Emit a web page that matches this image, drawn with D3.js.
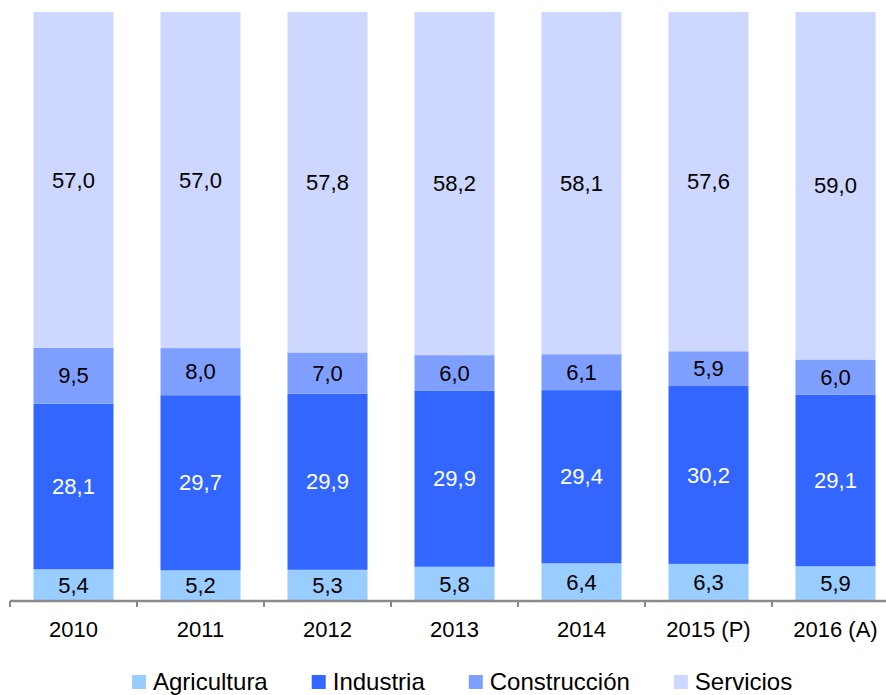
<!DOCTYPE html>
<html>
<head>
<meta charset="utf-8">
<script src="https://cdn.jsdelivr.net/npm/d3@7"></script>
<style>
body{margin:0;background:#fff;}
svg{display:block;font-family:"Liberation Sans",Arial,Helvetica,sans-serif;}
</style>
</head>
<body>
<svg id="chart" width="886" height="695"></svg>
<script>
var years=["2010","2011","2012","2013","2014","2015 (P)","2016 (A)"];
var sectors=["Agricultura","Industria","Construcción","Servicios"];
var agricultura=[5.4,5.2,5.3,5.8,6.4,6.3,5.9];
var industria=[28.1,29.7,29.9,29.9,29.4,30.2,29.1];
var construccion=[9.5,8.0,7.0,6.0,6.1,5.9,6.0];
var servicios=[57.0,57.0,57.8,58.2,58.1,57.6,59.0];
var colors=["#99ccff","#3366ff","#7f9fff","#cdd7ff"];
var labelColors=["#000","#fff","#000","#000"];

var rows=years.map((y,i)=>({
	year:y,
	"Agricultura":agricultura[i],
	"Industria":industria[i],
	"Construcción":construccion[i],
	"Servicios":servicios[i]
}))

var svg=d3.select("#chart");
var top_=12, bottom=601;

var xScale=d3.scaleBand()
.domain(years)
.range([10,899])
.paddingInner(0.37)
.paddingOuter(0.185)

var yScale=d3.scaleLinear()
.domain([0,1])
.range([bottom,top_])

var series=d3.stack()
.keys(sectors)
.offset(d3.stackOffsetExpand)
(rows)

var fmt=v=>d3.format(".1f")(v).replace(".",",")

var groups=svg.selectAll(".serie")
.data(series)
.enter()
.append("g")
.classed("serie",true)
.attr("fill",(d,i)=>colors[i])

groups.selectAll("rect")
.data(d=>d)
.enter()
.append("rect")
.attr("x",d=>xScale(d.data.year))
.attr("width",xScale.bandwidth())
.attr("y",d=>yScale(d[1]))
.attr("height",d=>yScale(d[0])-yScale(d[1]))

series.forEach((s,i)=>{
	svg.append("g")
	.selectAll("text")
	.data(s)
	.enter()
	.append("text")
	.attr("x",d=>xScale(d.data.year)+xScale.bandwidth()/2)
	.attr("y",d=>(yScale(d[0])+yScale(d[1]))/2)
	.attr("dy","0.35em")
	.attr("text-anchor","middle")
	.attr("font-size","22px")
	.attr("fill",labelColors[i])
	.text(d=>fmt(d.data[s.key]))
})

// axis
var xAxis=d3.axisBottom(xScale)
.tickSize(0)
.tickPadding(20)

var axisG=svg.append("g")
.attr("transform","translate(0,"+bottom+")")
.call(xAxis)

axisG.select(".domain").remove()
axisG.selectAll("text")
.attr("font-size","22px")
.attr("font-family","Liberation Sans, Arial, sans-serif")
.attr("fill","#000")

axisG.append("line")
.attr("x1",10)
.attr("x2",886)
.attr("y1",0)
.attr("y2",0)
.attr("stroke","#8a8a8a")
.attr("stroke-width",2.5)

var step=xScale.step();
var bounds=years.map(y=>xScale(y)-(step-xScale.bandwidth())/2)
axisG.selectAll(".bound")
.data(bounds)
.enter()
.append("line")
.classed("bound",true)
.attr("x1",d=>d)
.attr("x2",d=>d)
.attr("y1",0)
.attr("y2",6)
.attr("stroke","#8a8a8a")
.attr("stroke-width",2)

// legend
var legend=svg.append("g").attr("transform","translate(132,0)")
var lx=0;
sectors.forEach((s,i)=>{
	var g=legend.append("g").attr("transform","translate("+lx+",0)")
	g.append("rect")
	.attr("x",0)
	.attr("y",675)
	.attr("width",14)
	.attr("height",14)
	.attr("fill",colors[i])
	var t=g.append("text")
	.attr("x",21)
	.attr("y",690)
	.attr("font-size","24px")
	.attr("fill","#000")
	.text(s)
	lx+=21+t.node().getComputedTextLength()+44
})
</script>
</body>
</html>
